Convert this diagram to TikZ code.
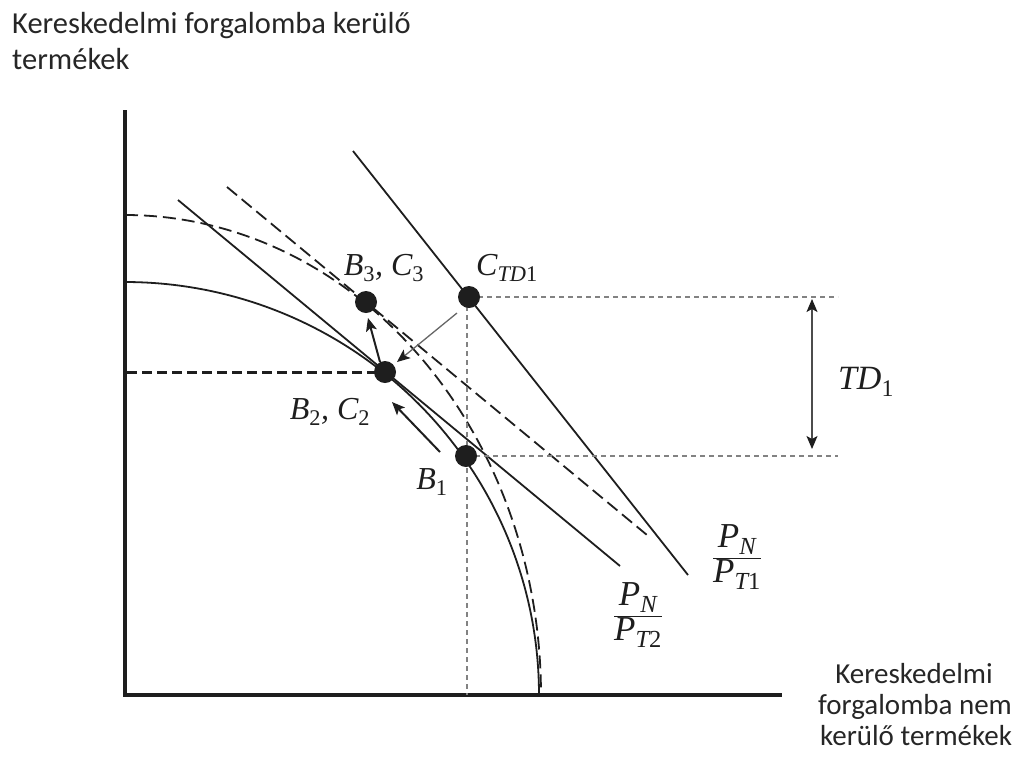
\documentclass[tikz,border=0pt]{standalone}
\usepackage{fontspec}
\setmainfont{Carlito}
\newfontfamily\tms{Liberation Serif}
\usetikzlibrary{arrows.meta}
\definecolor{ink}{RGB}{30,30,30}
\definecolor{gridgray}{RGB}{130,130,130}
\begin{document}
\begin{tikzpicture}[x=1pt,y=-1pt,
  ln/.style={line width=1.8pt, draw=ink},
  dsh/.style={line width=1.8pt, draw=ink, dash pattern=on 13pt off 6pt},
  dot/.style={circle, fill=ink, inner sep=0pt, minimum size=22pt},
  gridln/.style={line width=1.4pt, draw=gridgray, dash pattern=on 5pt off 4pt},
  lab/.style={inner sep=0pt, font=\tms\itshape\fontsize{32}{38}\selectfont, text=ink},
  ax/.style={font=\fontsize{29}{34}\selectfont, inner sep=0pt, text=black!85},
  tip/.style={-{Stealth[length=13pt,width=11pt,inset=3pt,color=ink]}}
]
\useasboundingbox (0,0) rectangle (1019,756);
% key points
\coordinate (b1) at (466,456);
\coordinate (b2) at (385,372);
\coordinate (b3) at (366,302);
\coordinate (c)  at (469,297);
\coordinate (O) at (125,695);
\coordinate (ytop) at (125,112);
\coordinate (xend) at (780,695);
% axes
\draw[line width=4pt, ink, line cap=rect] (ytop) -- (O) -- (xend);
% production possibility frontiers
\draw[ln] plot[domain=90:0, samples=90, smooth] ({125+414*cos(\x)},{695-413*sin(\x)});
\draw[dsh] plot[domain=90:0, samples=90, smooth] ({125+416*cos(\x)},{695-480*sin(\x)});
% price lines
\coordinate (s2a) at (178,200); \coordinate (s2b) at (620,566);
\coordinate (d2a) at (227,187); \coordinate (d2b) at (647,535);
\coordinate (s1a) at (353,151); \coordinate (s1b) at (688,575);
\draw[ln] (s2a) -- (s2b);
\draw[dsh] (d2a) -- (d2b);
\draw[ln] (s1a) -- (s1b);
% guide lines
\coordinate (ct) at (838,297);
\coordinate (bt) at (838,456);
\coordinate (cv) at (467,297);
\coordinate (cvb) at (467,695);
\coordinate (yl) at (127,372);
\draw[gridln] (c) -- (ct);
\draw[gridln] (b1) -- (bt);
\draw[gridln] (cv) -- (cvb);
\draw[line width=3pt, ink, dash pattern=on 10pt off 5pt] (yl) -- (b2);
% TD arrow
\coordinate (tda) at (812,299);
\coordinate (tdb) at (812,449);
\draw[line width=1.3pt, gray!60!black, {Stealth[length=13pt,width=11pt,inset=3pt,color=ink]}-{Stealth[length=13pt,width=11pt,inset=3pt,color=ink]}] (tda) -- (tdb);
% movement arrows
\coordinate (a1s) at (440,452); \coordinate (a1e) at (392,402);
\coordinate (a2s) at (380,362); \coordinate (a2e) at (368,318);
\coordinate (a3s) at (457,313); \coordinate (a3e) at (397,362);
\draw[line width=2pt, ink, tip] (a1s) -- (a1e);
\draw[line width=2pt, ink, tip] (a2s) -- (a2e);
\draw[line width=1.3pt, gray!80!black, tip] (a3s) -- (a3e);
% dots
\node[dot] (B1) at (b1) {};
\node[dot] (B2) at (b2) {};
\node[dot] (B3) at (b3) {};
\node[dot] (C) at (c) {};
% labels
\node[lab] (lB3) at (384,268) {B\textsubscript{\upshape 3}, C\textsubscript{\upshape 3}};
\node[lab] (lC) at (507,268) {C\textsubscript{TD\upshape 1}};
\node[lab] (lB2) at (330,412) {B\textsubscript{\upshape 2}, C\textsubscript{\upshape 2}};
\node[lab] (lB1) at (432,482) {B\textsubscript{\upshape 1}};
\node[lab, font=\tms\itshape\fontsize{34}{40}\selectfont] (lTD) at (866,382) {TD\textsubscript{\upshape 1}};
\node[lab, font=\tms\itshape\fontsize{35}{40}\selectfont] (f1) at (737,557) {$\displaystyle\frac{\mbox{\tms\itshape P\textsubscript{N}}}{\mbox{\tms\itshape P\textsubscript{T\upshape 1}}}$};
\node[lab, font=\tms\itshape\fontsize{35}{40}\selectfont] (f2) at (638,615) {$\displaystyle\frac{\mbox{\tms\itshape P\textsubscript{N}}}{\mbox{\tms\itshape P\textsubscript{T\upshape 2}}}$};
% axis labels
\node[ax, font=\fontsize{30.5}{36}\selectfont, anchor=base west] (y1) at (12,33) {Kereskedelmi forgalomba kerülő};
\node[ax, font=\fontsize{30.5}{36}\selectfont, anchor=base west] (y2) at (12,69) {termékek};
\node[ax, anchor=base] (x1) at (914,683) {Kereskedelmi};
\node[ax, anchor=base] (x2) at (915,714) {forgalomba nem};
\node[ax, anchor=base] (x3) at (916,745) {kerülő termékek};
\end{tikzpicture}
\end{document}
